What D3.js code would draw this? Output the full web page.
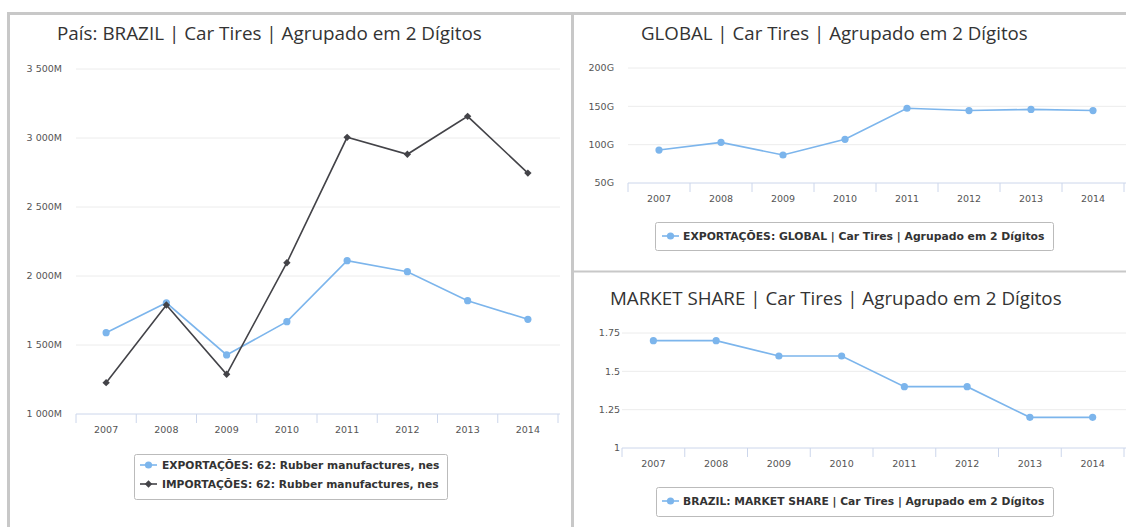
<!DOCTYPE html>
<html>
<head>
<meta charset="utf-8">
<script src="https://cdn.jsdelivr.net/npm/d3@7"></script>
<style>
  body { margin: 0; background: #fff; }
  svg { display: block; }
</style>
</head>
<body>
<div id="chart"></div>
<script>
// DATA //
const years = ["2007", "2008", "2009", "2010", "2011", "2012", "2013", "2014"];

// Brazil, millions
const brazilExports = [1589, 1806, 1428, 1669, 2111, 2031, 1821, 1686];
const brazilImports = [1227, 1790, 1288, 2096, 3005, 2882, 3157, 2746];
const brazilTicks = [1000, 1500, 2000, 2500, 3000, 3500];

// global exports, billions
const globalExports = [93, 103, 86.5, 107, 147.5, 144.5, 146, 144.5];
const globalTicks = [50, 100, 150, 200];

// market share
const marketShare = [1.7, 1.7, 1.6, 1.6, 1.4, 1.4, 1.2, 1.2];
const shareTicks = [1, 1.25, 1.5, 1.75];

// DIMENSIONS //
const W = 1126, H = 527;
const blue = "#7cb5ec", dark = "#434348";

let svg = d3.select("#chart").append("svg")
    .attr("width", W)
    .attr("height", H);

// space as thousands separator -> "3 500M"
const ptLocale = d3.formatLocale({decimal: ".", thousands: " ", grouping: [3], currency: ["", ""]});
const fmtM = v => ptLocale.format(",")(v) + "M";

// shrink/grow font so a text spans a given width
function fitText(sel, width) {
    let fs = parseFloat(sel.style("font-size"));
    let len = sel.node().getComputedTextLength();
    sel.style("font-size", (fs * width / len) + "px");
    return fs * width / len;
}

// circle for exports, square turned 45deg (diamond) for imports
function marker(sel, s) {
    if (s.symbol === "diamond") {
        sel.append("rect")
            .attr("x", -2.6).attr("y", -2.6)
            .attr("width", 5.2).attr("height", 5.2)
            .attr("transform", "rotate(45)")
            .attr("fill", s.color);
    } else {
        sel.append("circle").attr("r", 3.6).attr("fill", s.color);
    }
}

function panel(o) {
    let g = svg.append("g");

    let x = d3.scaleBand().domain(years).range(o.xRange);
    let y = d3.scaleLinear().domain(o.yDomain).range(o.yRange);

    // gridlines
    g.append("g").selectAll("line")
        .data(o.ticks.slice(1))
        .join("line")
        .attr("x1", o.xRange[0]).attr("x2", o.gridRight)
        .attr("y1", d => y(d)).attr("y2", d => y(d))
        .attr("stroke", "#ececec");

    // y labels
    g.append("g").selectAll("text")
        .data(o.ticks)
        .join("text")
        .attr("x", o.labelX)
        .attr("y", d => y(d))
        .attr("dy", "0.35em")
        .attr("text-anchor", "end")
        .style("font-family", "DejaVu Sans")
        .style("font-size", "9.5px")
        .attr("fill", "#555")
        .text(o.fmt);

    // x axis
    let base = y(o.yDomain[0]);
    g.append("line")
        .attr("x1", o.xRange[0]).attr("x2", o.gridRight)
        .attr("y1", base).attr("y2", base)
        .attr("stroke", "#ccd6eb");
    let bounds = years.map(d => x(d)).concat([o.xRange[1]]);
    g.append("g").selectAll("line")
        .data(bounds)
        .join("line")
        .attr("x1", d => d).attr("x2", d => d)
        .attr("y1", base).attr("y2", base + 9)
        .attr("stroke", "#ccd6eb");
    g.append("g").selectAll("text")
        .data(years)
        .join("text")
        .attr("x", d => x(d) + x.bandwidth() / 2)
        .attr("y", base + 16)
        .attr("dy", "0.35em")
        .attr("text-anchor", "middle")
        .style("font-family", "DejaVu Sans")
        .style("font-size", "9.5px")
        .attr("fill", "#555")
        .text(d => d);

    // series
    let cx = (d, i) => x(years[i]) + x.bandwidth() / 2;
    o.series.forEach(s => {
        g.append("path")
            .datum(s.values)
            .attr("fill", "none")
            .attr("stroke", s.color)
            .attr("stroke-width", 1.6)
            .attr("d", d3.line().x(cx).y(d => y(d)));
        g.append("g").selectAll("g")
            .data(s.values)
            .join("g")
            .attr("transform", (d, i) => `translate(${cx(d, i)},${y(d)})`)
            .each(function () { marker(d3.select(this), s); });
    });

    // title
    let t = g.append("text")
        .attr("x", o.titleX)
        .attr("y", o.titleY)
        .attr("dy", "0.35em")
        .style("font-family", "Open Sans")
        .style("font-size", "16px")
        .attr("fill", "#333")
        .text(o.title);
    fitText(t, o.titleW);

    // legend
    let L = o.legend;
    g.append("rect")
        .attr("x", L.x + 0.5).attr("y", L.y + 0.5)
        .attr("width", L.w).attr("height", L.h)
        .attr("rx", 2)
        .attr("fill", "#fff")
        .attr("stroke", "#bbb");
    let legendSize = null;
    o.series.forEach((s, i) => {
        let ry = L.rowY + i * L.rowH;
        g.append("line")
            .attr("x1", L.markX).attr("x2", L.markX + 17)
            .attr("y1", ry).attr("y2", ry)
            .attr("stroke", s.color).attr("stroke-width", 1.6);
        marker(g.append("g").attr("transform", `translate(${L.markX + 8.5},${ry})`), s);
        let lt = g.append("text")
            .attr("x", L.textX)
            .attr("y", ry)
            .attr("dy", "0.35em")
            .style("font-family", "DejaVu Sans")
            .style("font-weight", "bold")
            .style("font-size", "9px")
            .attr("fill", "#333")
            .text(s.name);
        if (legendSize === null) legendSize = fitText(lt, L.textW);
        else lt.style("font-size", legendSize + "px");
    });
}

// LEFT: Brazil exports / imports
panel({
    title: "País: BRAZIL | Car Tires | Agrupado em 2 Dígitos",
    titleX: 57, titleY: 33, titleW: 425,
    xRange: [76, 558], gridRight: 560,
    yDomain: [1000, 3500], yRange: [414, 69],
    ticks: brazilTicks, fmt: fmtM, labelX: 62,
    series: [
        {name: "EXPORTAÇÕES: 62: Rubber manufactures, nes", values: brazilExports, color: blue, symbol: "circle"},
        {name: "IMPORTAÇÕES: 62: Rubber manufactures, nes", values: brazilImports, color: dark, symbol: "diamond"}
    ],
    legend: {x: 134, y: 454, w: 313, h: 45, rowY: 465, rowH: 19, markX: 140, textX: 162, textW: 278}
});

// TOP RIGHT: global exports
panel({
    title: "GLOBAL | Car Tires | Agrupado em 2 Dígitos",
    titleX: 641, titleY: 33, titleW: 387,
    xRange: [628, 1124], gridRight: 1126,
    yDomain: [50, 200], yRange: [183, 68],
    ticks: globalTicks, fmt: d => d + "G", labelX: 614,
    series: [
        {name: "EXPORTAÇÕES: GLOBAL | Car Tires | Agrupado em 2 Dígitos", values: globalExports, color: blue, symbol: "circle"}
    ],
    legend: {x: 655, y: 222, w: 398, h: 28, rowY: 236, rowH: 19, markX: 662, textX: 683, textW: 362}
});

// BOTTOM RIGHT: market share
panel({
    title: "MARKET SHARE | Car Tires | Agrupado em 2 Dígitos",
    titleX: 610, titleY: 298, titleW: 452,
    xRange: [622, 1124], gridRight: 1126,
    yDomain: [1, 1.75], yRange: [448, 333],
    ticks: shareTicks, fmt: d => d, labelX: 620,
    series: [
        {name: "BRAZIL: MARKET SHARE | Car Tires | Agrupado em 2 Dígitos", values: marketShare, color: blue, symbol: "circle"}
    ],
    legend: {x: 656, y: 487, w: 397, h: 29, rowY: 501, rowH: 19, markX: 662, textX: 683, textW: 362}
});

// FRAME //
const frame = "#c8c8c8";
svg.append("line").attr("x1", 7).attr("x2", W).attr("y1", 13.5).attr("y2", 13.5)
    .attr("stroke", frame).attr("stroke-width", 3);
svg.append("line").attr("x1", 8.5).attr("x2", 8.5).attr("y1", 12).attr("y2", H)
    .attr("stroke", frame).attr("stroke-width", 3);
svg.append("line").attr("x1", 572.5).attr("x2", 572.5).attr("y1", 12).attr("y2", H)
    .attr("stroke", frame).attr("stroke-width", 3);
svg.append("line").attr("x1", 574).attr("x2", W).attr("y1", 271.5).attr("y2", 271.5)
    .attr("stroke", frame).attr("stroke-width", 2);
</script>
</body>
</html>
